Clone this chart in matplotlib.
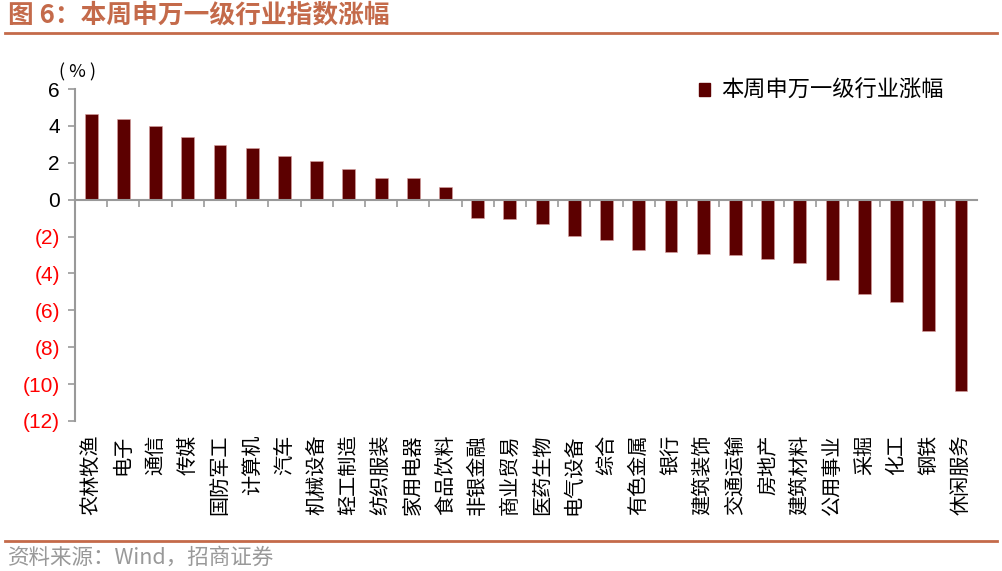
import matplotlib
matplotlib.use('Agg')
import matplotlib.pyplot as plt
from matplotlib.patches import Patch

plt.rcParams['font.family'] = ['Noto Sans CJK SC', 'DejaVu Sans']

industries = ['农林牧渔', '电子', '通信', '传媒', '国防军工', '计算机', '汽车', '机械设备',
              '轻工制造', '纺织服装', '家用电器', '食品饮料', '非银金融', '商业贸易', '医药生物',
              '电气设备', '综合', '有色金属', '银行', '建筑装饰', '交通运输', '房地产',
              '建筑材料', '公用事业', '采掘', '化工', '钢铁', '休闲服务']
changes = [4.65, 4.36, 3.98, 3.42, 2.96, 2.78, 2.37, 2.10, 1.66, 1.19, 1.16, 0.70,
           -1.00, -1.05, -1.34, -1.99, -2.19, -2.73, -2.84, -2.95, -3.02, -3.22,
           -3.42, -4.36, -5.12, -5.55, -7.14, -10.37]
yticks = [6, 4, 2, 0, -2, -4, -6, -8, -10, -12]

bar_color = '#5c0000'
head_color = '#c46a4a'
axis_color = '#999999'

fig = plt.figure(figsize=(10.02, 5.71), dpi=100)
ax = fig.add_axes([0.0749, 0.2627, 0.9002, 0.5814])

x = list(range(len(industries)))
ax.bar(x, changes, width=0.4, color=bar_color, edgecolor='#d9a0a0', linewidth=0.4)

ax.set_xlim(-0.5, len(industries) - 0.5)
ax.set_ylim(-12, 6)

# y axis
ax.set_yticks(yticks)
ax.set_yticklabels([str(v) if v >= 0 else '(%d)' % -v for v in yticks],
                   family='Liberation Sans', fontsize=15)
for lab, v in zip(ax.get_yticklabels(), yticks):
    lab.set_color('black' if v >= 0 else '#ff0000')
ax.tick_params(axis='y', direction='out', length=5, width=1.2, color=axis_color, pad=6)
ax.spines['left'].set_color(axis_color)
ax.spines['left'].set_linewidth(1.5)

# x axis line at zero with ticks between categories
ax.spines['bottom'].set_position(('data', 0))
ax.spines['bottom'].set_color(axis_color)
ax.spines['bottom'].set_linewidth(1.5)
ax.set_xticks([i + 0.5 for i in range(len(industries) - 1)])
ax.set_xticklabels([])
ax.tick_params(axis='x', direction='out', length=5, width=1.2, color=axis_color)
ax.spines['top'].set_visible(False)
ax.spines['right'].set_visible(False)

# category labels at the bottom
sec = ax.secondary_xaxis(0)
sec.set_xticks(x)
sec.set_xticklabels(industries, rotation=90, fontsize=14.5, va='top', ha='center')
sec.tick_params(length=0, pad=10)
sec.spines['bottom'].set_visible(False)

ax.text(0.003, 1.05, '( % )', transform=ax.transAxes, fontsize=13, ha='center', va='center')

ax.legend(handles=[Patch(color=bar_color, label='本周申万一级行业涨幅')],
          loc='upper right', bbox_to_anchor=(0.985, 1.09), frameon=False, fontsize=16,
          handlelength=0.5, handleheight=0.5, handletextpad=0.5)

# header and footer
fig.text(0.008, 0.973, '图 6：本周申万一级行业指数涨幅', fontsize=18.5, fontweight='bold',
         color=head_color, ha='left', va='center')
fig.add_artist(plt.Line2D([0.005, 0.995], [0.942, 0.942], color=head_color, linewidth=2))
fig.add_artist(plt.Line2D([0.005, 0.995], [0.052, 0.052], color=head_color, linewidth=2))
fig.text(0.008, 0.024, '资料来源：Wind，招商证券', fontsize=15.5, color='#999999',
         ha='left', va='center')

fig.savefig('out.png', dpi=100)
